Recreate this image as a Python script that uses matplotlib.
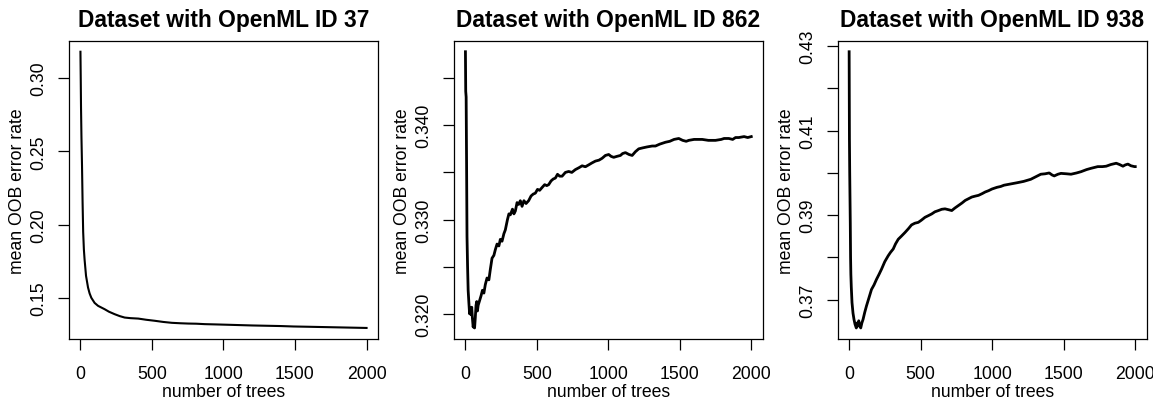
import matplotlib
matplotlib.use("Agg")
import matplotlib.pyplot as plt

plt.rcParams['font.family'] = ['Liberation Sans', 'DejaVu Sans']

# ---------------- data ----------------
titles = ["Dataset with OpenML ID 37", "Dataset with OpenML ID 862", "Dataset with OpenML ID 938"]
xlabel = "number of trees"
ylabel = "mean OOB error rate"
xticks = [0, 500, 1000, 1500, 2000]

trees_37 = [1, 3, 5, 8, 12, 16, 20, 25, 30, 40, 54, 65, 77, 100, 124, 150, 170, 200, 240,
            275, 310, 350, 405, 460, 520, 580, 640, 700, 755, 810, 870, 950, 1060, 1200,
            1300, 1400, 1490, 1600, 1700, 1800, 1900, 2000]
oob_37 = [0.318, 0.300, 0.280, 0.260, 0.240, 0.215, 0.195, 0.183, 0.176, 0.165, 0.157, 0.153,
          0.150, 0.1465, 0.1445, 0.1432, 0.1422, 0.1405, 0.1388, 0.1375, 0.1365, 0.1361,
          0.1358, 0.1350, 0.1343, 0.1335, 0.1329, 0.1326, 0.1324, 0.1323, 0.1320, 0.1318,
          0.1315, 0.1311, 0.1309, 0.1307, 0.1304, 0.1302, 0.1300, 0.1298, 0.1296, 0.1294]

trees_862 = [1, 3, 6, 9, 12, 16, 20, 25, 30, 35, 40, 45, 50, 55, 60, 65, 70, 75, 80, 85, 90,
             100, 110, 120, 130, 140, 152, 165, 175, 187, 200, 210, 222, 235, 245, 257, 270,
             280, 295, 305, 315, 330, 340, 350, 362, 373, 385, 397, 410, 425, 443, 460, 475,
             490, 505, 520, 537, 555, 570, 583, 600, 615, 630, 645, 660, 677, 700, 723, 745,
             770, 795, 817, 840, 863, 885, 910, 935, 957, 980, 1003, 1020, 1038, 1060, 1085,
             1100, 1120, 1145, 1167, 1190, 1213, 1240, 1270, 1307, 1330, 1360, 1400, 1430,
             1460, 1493, 1520, 1545, 1563, 1600, 1630, 1657, 1700, 1750, 1790, 1810, 1843,
             1870, 1890, 1913, 1950, 1975, 2000]
oob_862 = [0.3478, 0.3436, 0.3430, 0.3360, 0.3282, 0.3250, 0.3225, 0.3212, 0.3200, 0.3206,
           0.3199, 0.3207, 0.3195, 0.3186, 0.3191, 0.3185, 0.3196, 0.3209, 0.3213, 0.3203,
           0.3209, 0.3214, 0.3219, 0.3225, 0.3222, 0.3231, 0.3238, 0.3236, 0.3247, 0.3259,
           0.3262, 0.3268, 0.3274, 0.3272, 0.3279, 0.3277, 0.3285, 0.3289, 0.3300, 0.3306,
           0.3305, 0.3311, 0.3306, 0.3309, 0.3318, 0.3316, 0.3320, 0.3314, 0.3320, 0.3317,
           0.3320, 0.3325, 0.3327, 0.3328, 0.3332, 0.3331, 0.3334, 0.3337, 0.3336, 0.3337,
           0.3341, 0.3343, 0.3344, 0.3348, 0.3346, 0.3346, 0.3350, 0.3351, 0.3350, 0.3353,
           0.3355, 0.3357, 0.3356, 0.3358, 0.3360, 0.3362, 0.3363, 0.3365, 0.3368, 0.3369,
           0.3367, 0.3366, 0.3367, 0.3368, 0.3370, 0.3371, 0.3369, 0.3368, 0.3372, 0.3375,
           0.3376, 0.3377, 0.3378, 0.3378, 0.3380, 0.3382, 0.3383, 0.3385, 0.3386, 0.3384,
           0.3383, 0.3384, 0.3385, 0.3385, 0.3385, 0.3384, 0.3384, 0.3385, 0.3386, 0.3386,
           0.3385, 0.3387, 0.3387, 0.3388, 0.3387, 0.3388]

trees_938 = [1, 2, 3, 5, 7, 9, 11, 13, 16, 21, 28, 35, 42, 51, 58, 64, 68, 75, 82, 90, 98,
             110, 122, 140, 157, 175, 192, 210, 227, 250, 274, 290, 309, 325, 344, 365, 391,
             415, 437, 460, 484, 505, 531, 555, 578, 600, 625, 648, 671, 695, 718, 740, 765,
             790, 812, 835, 858, 880, 905, 930, 952, 975, 999, 1034, 1060, 1083, 1130, 1177,
             1220, 1270, 1305, 1340, 1370, 1399, 1420, 1434, 1460, 1481, 1520, 1551, 1590,
             1621, 1660, 1691, 1738, 1770, 1797, 1830, 1867, 1890, 1914, 1930, 1949, 1970,
             1995, 2000]
oob_938 = [0.4287, 0.4180, 0.4080, 0.4000, 0.3940, 0.3880, 0.3800, 0.3760, 0.3730, 0.3693,
           0.3668, 0.3653, 0.3642, 0.3633, 0.3645, 0.3638, 0.3650, 0.3637, 0.3633, 0.3645,
           0.3653, 0.3670, 0.3685, 0.3705, 0.3724, 0.3735, 0.3748, 0.3760, 0.3772, 0.3790,
           0.3804, 0.3812, 0.3820, 0.3832, 0.3843, 0.3850, 0.3859, 0.3868, 0.3877, 0.3881,
           0.3883, 0.3888, 0.3895, 0.3899, 0.3903, 0.3908, 0.3911, 0.3914, 0.3915, 0.3913,
           0.3911, 0.3917, 0.3923, 0.3929, 0.3935, 0.3939, 0.3943, 0.3945, 0.3947, 0.3951,
           0.3955, 0.3958, 0.3962, 0.3966, 0.3968, 0.3971, 0.3974, 0.3977, 0.3980, 0.3985,
           0.3991, 0.3997, 0.3998, 0.4000, 0.3995, 0.3993, 0.3997, 0.3999, 0.3998, 0.3997,
           0.4000, 0.4003, 0.4008, 0.4011, 0.4015, 0.4015, 0.4016, 0.4020, 0.4023, 0.4020,
           0.4016, 0.4019, 0.4021, 0.4017, 0.4015, 0.4015]

yticks_37 = [0.15, 0.20, 0.25, 0.30]
ylabels_37 = ["0.15", "0.20", "0.25", "0.30"]
yticks_862 = [0.320, 0.325, 0.330, 0.335, 0.340, 0.345]
ylabels_862 = ["0.320", "", "0.330", "", "0.340", ""]
yticks_938 = [0.37, 0.38, 0.39, 0.40, 0.41, 0.42, 0.43]
ylabels_938 = ["0.37", "", "0.39", "", "0.41", "", "0.43"]

panels = [
    (trees_37, oob_37, yticks_37, ylabels_37, 1.5),
    (trees_862, oob_862, yticks_862, ylabels_862, 2.0),
    (trees_938, oob_938, yticks_938, ylabels_938, 2.0),
]

# ---------------- figure ----------------
W, H = 1153, 402
fig = plt.figure(figsize=(W / 100, H / 100), dpi=100)

# axes boxes in pixel coords (left, right, top, bottom)
boxes = [(69, 378, 41.7, 340), (454, 762.7, 41.7, 340), (837.7, 1146.7, 41.7, 340)]

FS = 12.7
for (tr, vals, yt, yl, lw), (l, r, t, b), title in zip(panels, boxes, titles):
    ax = fig.add_axes([l / W, (H - b) / H, (r - l) / W, (b - t) / H])
    ax.plot(tr, vals, color='black', linewidth=lw, solid_joinstyle='round')
    # R-style 4% padding of data range
    x0, x1 = min(tr), max(tr)
    dx = 0.04 * (x1 - x0)
    ax.set_xlim(x0 - dx, x1 + dx)
    y0, y1 = min(vals), max(vals)
    dy = 0.04 * (y1 - y0)
    ax.set_ylim(y0 - dy, y1 + dy)

    ax.set_xticks(xticks)
    ax.set_xticklabels([str(v) for v in xticks], fontsize=FS)
    ax.set_yticks(yt)
    ax.set_yticklabels(yl, fontsize=FS, rotation=90, va='center')

    ax.tick_params(axis='x', direction='out', length=7.9, width=0.9, pad=11.0)
    ax.tick_params(axis='y', direction='out', length=7.9, width=0.9, pad=7.5)
    for s in ax.spines.values():
        s.set_linewidth(0.9)

    ax.set_title(title, fontsize=16.4, fontweight='bold', pad=10.8)
    ax.set_xlabel(xlabel, fontsize=FS)
    ax.xaxis.set_label_coords(0.5, (b - 397.5) / (b - t))
    ax.xaxis.label.set_va('baseline')
    ax.set_ylabel(ylabel, fontsize=FS)
    ax.yaxis.set_label_coords((17.5 - 69) / (r - l), 0.5)
    ax.yaxis.label.set_va('center')

fig.savefig("out.png", dpi=100)
